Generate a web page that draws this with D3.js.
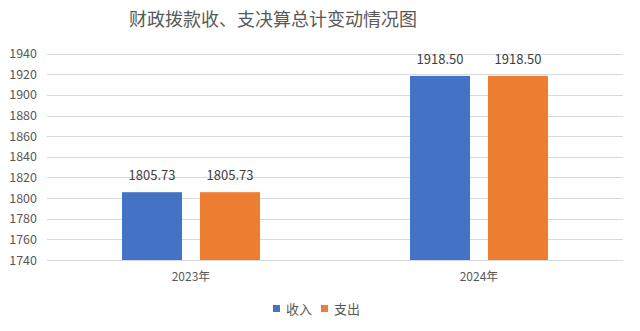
<!DOCTYPE html>
<html>
<head>
<meta charset="utf-8">
<script src="https://cdn.jsdelivr.net/npm/d3@7"></script>
<style>
  html, body { margin: 0; padding: 0; background: #fff; }
  svg { display: block; }
</style>
</head>
<body>
<svg id="chart" width="640" height="331"></svg>
<script>
// Fiscal appropriation income / expenditure totals
const categories = ["2023年", "2024年"];
const seriesNames = ["收入", "支出"];
const income = [1805.73, 1918.50];
const expense = [1805.73, 1918.50];
const yTicks = [1740, 1760, 1780, 1800, 1820, 1840, 1860, 1880, 1900, 1920, 1940];
const colors = ["#4472C4", "#ED7D31"];

const svg = d3.select("#chart");
const plot = { left: 47, right: 623, top: 53.7, bottom: 260 };
const font = "'Noto Sans CJK SC', 'Noto Sans', sans-serif";

const x0 = d3.scaleBand().domain(categories).range([plot.left, plot.right]).paddingInner(0).paddingOuter(0);
const y = d3.scaleLinear().domain([1740, 1940]).range([plot.bottom, plot.top]);
const x1 = d3.scaleBand().domain(seriesNames).range([0, 138]).paddingInner(0.23);
const groupOffset = (x0.bandwidth() - 138) / 2;

// Title
svg.append("text")
  .attr("x", 273).attr("y", 26)
  .attr("text-anchor", "middle")
  .attr("font-family", "'Noto Sans CJK SC', sans-serif")
  .attr("font-size", 18)
  .attr("fill", "#595959")
  .text("财政拨款收、支决算总计变动情况图");

// Gridlines
svg.append("g").selectAll("line").data(yTicks).join("line")
  .attr("x1", plot.left).attr("x2", plot.right)
  .attr("y1", d => Math.round(y(d)) + 0.5).attr("y2", d => Math.round(y(d)) + 0.5)
  .attr("stroke", "#d9d9d9").attr("stroke-width", 1);

// Y axis labels
const yAxis = d3.axisLeft(y).tickValues(yTicks).tickFormat(d3.format("d")).tickSize(0).tickPadding(10);
const yg = svg.append("g").attr("transform", `translate(${plot.left},0)`).call(yAxis);
yg.select(".domain").remove();
yg.selectAll("text").attr("font-family", font).attr("font-size", 12.5).attr("fill", "#595959");

// X axis labels
const xAxis = d3.axisBottom(x0).tickSize(0).tickPadding(12);
const xg = svg.append("g").attr("transform", `translate(0,${plot.bottom})`).call(xAxis);
xg.select(".domain").remove();
xg.selectAll("text").attr("font-family", font).attr("font-size", 12).attr("fill", "#595959");

// Bars
const rows = categories.map((c, i) => ({ cat: c, vals: [income[i], expense[i]] }));
const groups = svg.append("g").selectAll("g").data(rows).join("g")
  .attr("transform", d => `translate(${x0(d.cat) + groupOffset},0)`);

groups.selectAll("rect").data(d => d.vals.map((v, j) => ({ v, s: seriesNames[j], j }))).join("rect")
  .attr("x", d => x1(d.s))
  .attr("width", x1.bandwidth())
  .attr("y", d => y(d.v))
  .attr("height", d => y(1740) - y(d.v))
  .attr("fill", d => colors[d.j]);

groups.selectAll("text").data(d => d.vals.map((v, j) => ({ v, s: seriesNames[j] }))).join("text")
  .attr("x", d => x1(d.s) + x1.bandwidth() / 2)
  .attr("y", d => y(d.v) - 12)
  .attr("text-anchor", "middle")
  .attr("font-family", font).attr("font-size", 13)
  .attr("fill", "#404040")
  .text(d => d.v.toFixed(2));

// Legend
const legend = svg.append("g").attr("transform", "translate(273,305)");
const offsets = [0, 48];
seriesNames.forEach((name, i) => {
  const g = legend.append("g").attr("transform", `translate(${offsets[i]},0)`);
  g.append("rect").attr("x", 0).attr("y", 0).attr("width", 7).attr("height", 7).attr("fill", colors[i]);
  g.append("text").attr("x", 13).attr("y", 8).attr("dy", "0.1em")
    .attr("font-family", font).attr("font-size", 13).attr("fill", "#595959").text(name);
});
</script>
</body>
</html>
